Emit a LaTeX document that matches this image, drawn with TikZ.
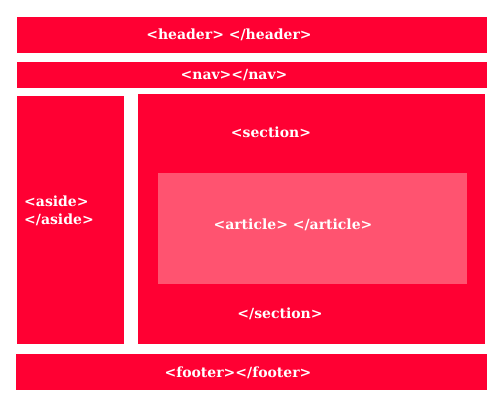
\documentclass[tikz,border=0pt]{standalone}
\usepackage{fontspec}
\setmainfont{DejaVu Serif}
\definecolor{boxred}{RGB}{255,0,51}
\definecolor{artred}{RGB}{255,83,112}
\begin{document}
\begin{tikzpicture}[x=1pt,y=-1pt,
  region/.style={fill=boxred},
  lbl/.style={text=white,font=\bfseries\fontsize{14}{17}\selectfont,inner sep=0pt}]
\useasboundingbox[fill=white] (0,0) rectangle (500,400);
\fill[region] (17,17) rectangle (487,53);
\fill[region] (17,62) rectangle (487,88);
\fill[region] (17,96) rectangle (124,344);
\fill[region] (138,94) rectangle (485,344);
\fill[fill=artred] (158,173) rectangle (467,284);
\fill[region] (16,354) rectangle (487,390);
\node[lbl] (h) at (229,35) {<header> </header>};
\node[lbl] (n) at (234,75) {<nav></nav>};
\node[lbl] (s1) at (271,132) {<section>};
\node[lbl] (s2) at (280,314) {</section>};
\node[lbl,anchor=west] (a1) at (24,201) {<aside>};
\node[lbl,anchor=west] (a2) at (24,220) {</aside>};
\node[lbl] (ar) at (293,225) {<article> </article>};
\node[lbl] (f) at (238,373) {<footer></footer>};
\end{tikzpicture}
\end{document}
